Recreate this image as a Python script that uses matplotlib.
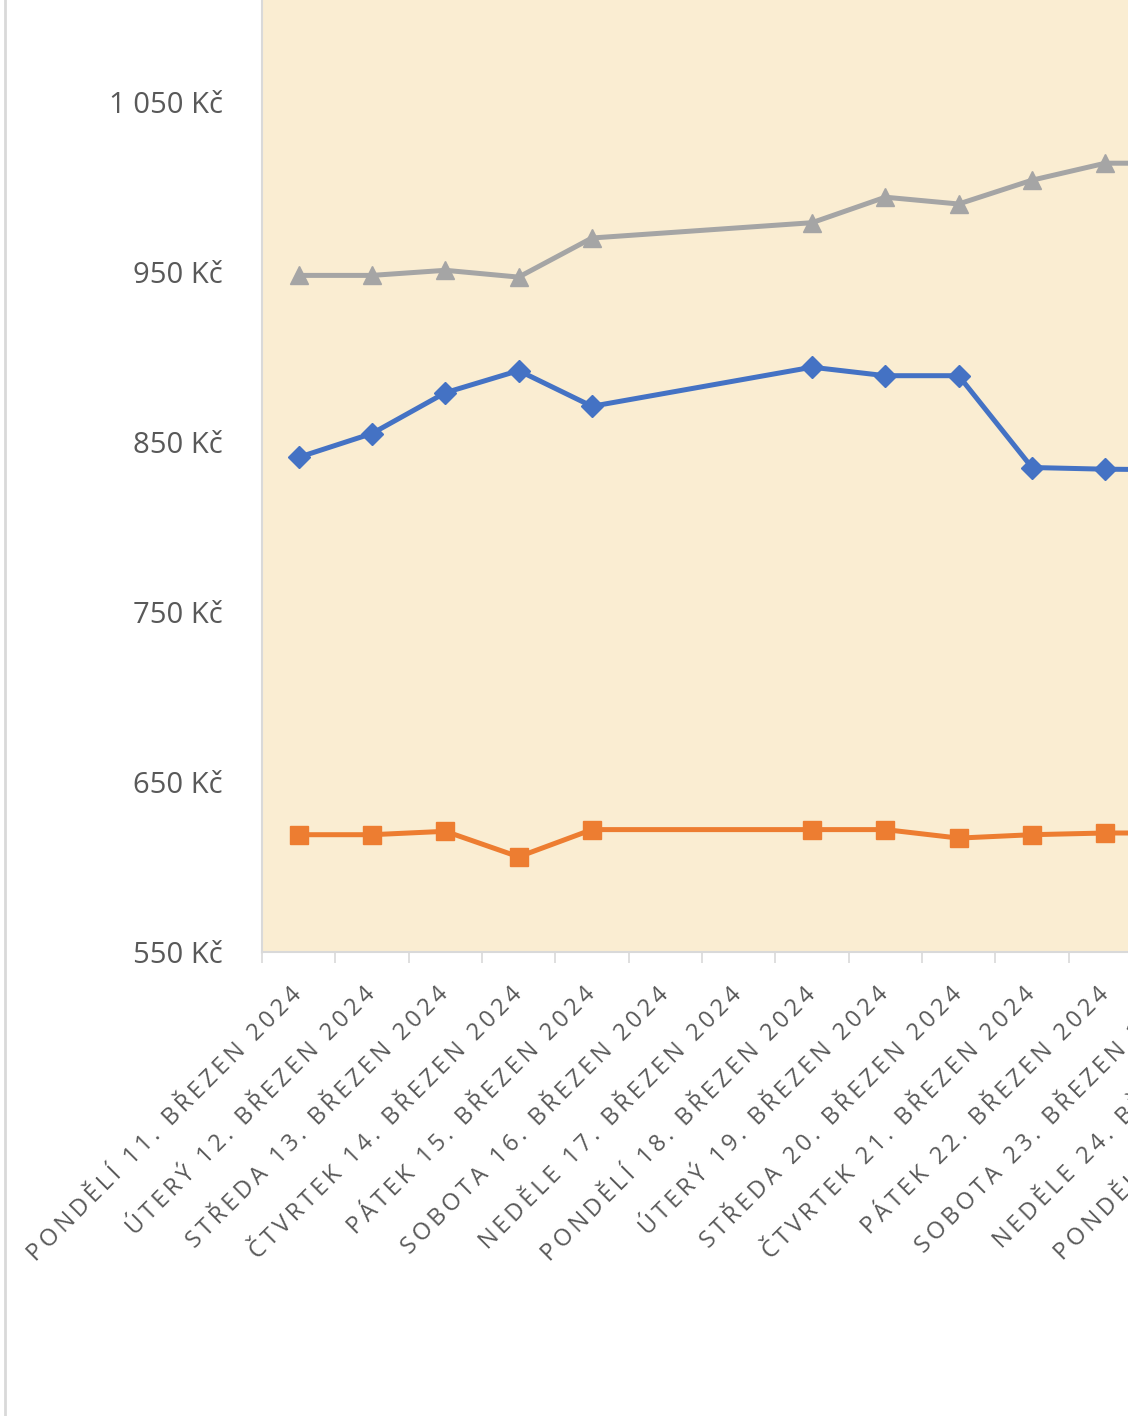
import numpy as np
import matplotlib
matplotlib.use("Agg")
import matplotlib.pyplot as plt
from matplotlib.lines import Line2D
from matplotlib.patches import Rectangle

plt.rcParams['font.family'] = ['Open Sans', 'DejaVu Sans']

# dny v březnu 2024
days = ["PONDĚLÍ 11. BŘEZEN 2024", "ÚTERÝ 12. BŘEZEN 2024", "STŘEDA 13. BŘEZEN 2024",
        "ČTVRTEK 14. BŘEZEN 2024", "PÁTEK 15. BŘEZEN 2024", "SOBOTA 16. BŘEZEN 2024",
        "NEDĚLE 17. BŘEZEN 2024", "PONDĚLÍ 18. BŘEZEN 2024", "ÚTERÝ 19. BŘEZEN 2024",
        "STŘEDA 20. BŘEZEN 2024", "ČTVRTEK 21. BŘEZEN 2024", "PÁTEK 22. BŘEZEN 2024",
        "SOBOTA 23. BŘEZEN 2024", "NEDĚLE 24. BŘEZEN 2024", "PONDĚLÍ 25. BŘEZEN 2024"]

nan = np.nan
# o víkendu se neobchoduje
blue_vals = [841, 855, 879, 892, 871, nan, nan, 894, 889, 889, 835, 834, nan, nan, 833]
orange_vals = [619, 619, 621, 606, 622, nan, nan, 622, 622, 617, 619, 620, nan, nan, 620]
gray_vals = [948, 948, 951, 947, 970, nan, nan, 979, 994, 990, 1004, 1014, nan, nan, 1014]

y_ticks = [550, 650, 750, 850, 950, 1050, 1150]
y_labels = ["550 Kč", "650 Kč", "750 Kč", "850 Kč", "950 Kč", "1 050 Kč", "1 150 Kč"]

W, H = 1136, 1416
fig = plt.figure(figsize=(W / 100, H / 100), dpi=100)
fig.patch.set_facecolor("white")

# osa je oříznutá nahoře i vpravo, stejně jako na předloze
step = 73.33
ax = fig.add_axes([262 / W, (H - 952) / H, 15 * step / W, 600 * 1.7 / H])
ax.set_facecolor("#FAEDD2")

x = np.arange(len(days))

def draw(vals, color, marker, ms):
    v = np.array(vals, dtype=float)
    ok = ~np.isnan(v)
    ax.plot(x[ok], v[ok], color=color, lw=3.6, marker=marker, ms=ms,
            markeredgecolor=color, zorder=3)

draw(gray_vals, "#A5A5A5", "^", 13)
draw(blue_vals, "#4472C4", "D", 11)
draw(orange_vals, "#ED7D31", "s", 13.5)

ax.set_xlim(-0.5, len(days) - 0.5)
ax.set_ylim(550, 1150)

ax.set_yticks(y_ticks)
ax.set_yticklabels(y_labels)
ax.tick_params(axis="y", length=0, pad=28, labelsize=21, labelcolor="#595959")

# Excel má u popisků roztažené písmo -> tenké mezery mezi znaky
spaced = ["\u2009".join(d) for d in days]
ax.set_xticks(x)
ax.set_xticklabels(spaced, rotation=45, ha="right", va="center", rotation_mode="anchor")
ax.set_xticks(np.arange(-0.5, len(days), 1), minor=True)
ax.tick_params(axis="x", which="major", length=0, pad=28, labelsize=17, labelcolor="#595959")
ax.tick_params(axis="x", which="minor", length=8, width=1.2, color="#D9D9D9")

for s in ["top", "right"]:
    ax.spines[s].set_visible(False)
for s in ["left", "bottom"]:
    ax.spines[s].set_color("#D9D9D9")
    ax.spines[s].set_linewidth(1.5)

# okraj grafu vlevo a bílý pruh vpravo
fig.add_artist(Line2D([5 / W, 5 / W], [0, 1], color="#D9D9D9", lw=2))
fig.add_artist(Rectangle((1128 / W, 0), 8 / W, 1, transform=fig.transFigure,
                         facecolor="white", edgecolor="none", zorder=10))

fig.savefig("out.png", dpi=100)
